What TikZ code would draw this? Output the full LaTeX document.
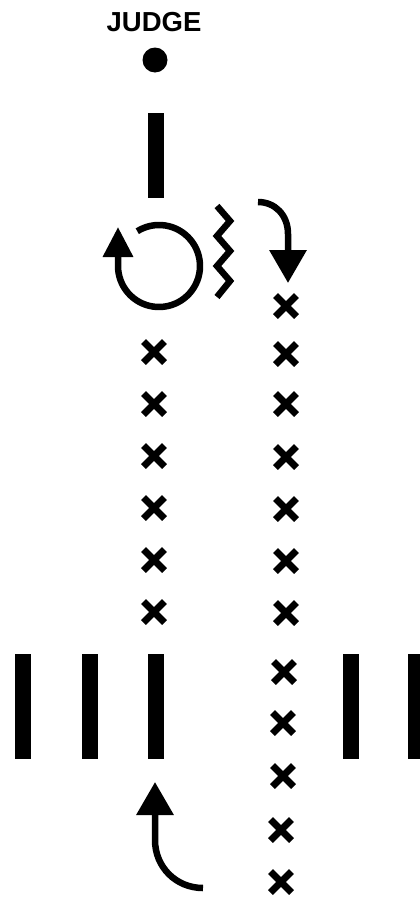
\documentclass[tikz,border=0pt]{standalone}
\usepackage{fontspec}
\setmainfont{Liberation Sans}
\usetikzlibrary{arrows.meta}

\begin{document}
\begin{tikzpicture}[x=1pt, y=-1pt,
  turn/.style={line width=6.5pt, -{Triangle[length=33pt, width=36pt]}},
  xmark/.pic={\draw[line width=7pt] (-10.5,-10.5) -- (10.5,10.5) (-10.5,10.5) -- (10.5,-10.5);}]
  \useasboundingbox (0,0) rectangle (420,897);
  \node[font=\bfseries\fontsize{27.5}{32}\selectfont] (judge) at (154,22) {JUDGE};
  \fill (155,60) circle (12.5);
  \fill (148,113) rectangle (164,198);
  \foreach \bx in {23,90,156,351,416}
    \fill (\bx-8,654) rectangle (\bx+8,759);
  \draw[line width=6.5pt, -{Triangle[length=30pt, width=29pt]}]
    plot[domain=-122:180, samples=60] ({159+41*cos(\x)}, {266+41*sin(\x)}) -- (118,227);
  \draw[line width=6.5pt, line join=miter]
    (217,206) -- (230,221) -- (217,236) -- (230,251) -- (217,266) -- (230,281) -- (217,297);
  \draw[turn] (258,202) .. controls (275,202) and (288,215) .. (288,234) -- (288,283);
  \draw[turn] (203,888) .. controls (176,888) and (155,867) .. (155,840) -- (155,782);
  \foreach \py in {352,404,456,508,560,612}
    \pic at (154,\py) {xmark};
  \foreach \px/\py in {286/306,286/354,286/404,286/457,286/509,286/561,
                       286/613,284/672,283/723,283/776,281/830,281/882}
    \pic at (\px,\py) {xmark};
\end{tikzpicture}
\end{document}
